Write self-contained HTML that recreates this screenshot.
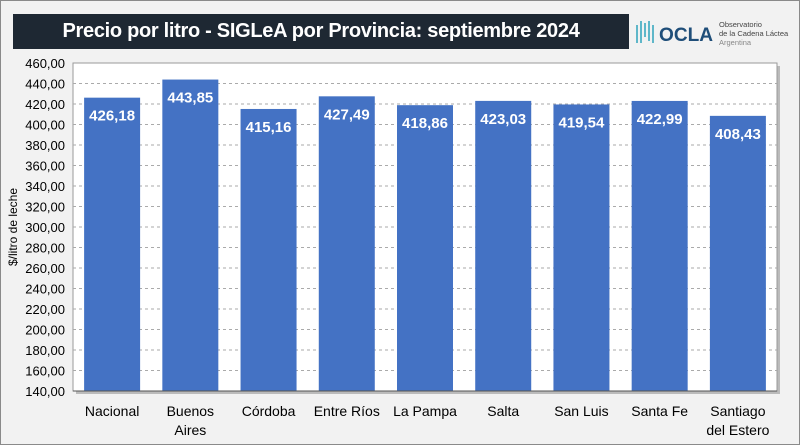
<!DOCTYPE html>
<html><head><meta charset="utf-8"><style>
body{margin:0;background:#f2f2f2;font-family:"Liberation Sans",sans-serif;}
#wrap{position:relative;width:798px;height:443px;border:1px solid #8a8a8a;background:#f2f2f2;overflow:hidden}
#title{position:absolute;left:12px;top:13px;width:616px;height:35px;background:#1e2833;color:#fff;font-weight:bold;font-size:20px;line-height:35px;text-align:center;letter-spacing:-0.3px}
#logo{position:absolute;left:634px;top:16px;}
</style></head><body>
<div id="wrap">
<div id="title">Precio por litro - SIGLeA por Provincia: septiembre 2024</div>
<svg id="logo" width="166" height="34">
<path d="M2 26 V8 M6 26 V4 M10 20 V6 M14 24 V4 M18 26 V8" stroke="#5fb7c9" stroke-width="2" fill="none"/>
<text x="24" y="24" font-size="19" font-weight="bold" fill="#1f4e79" font-family="Liberation Sans" textLength="54" lengthAdjust="spacingAndGlyphs">OCLA</text>
<text x="84" y="10" font-size="7.5" fill="#444">Observatorio</text>
<text x="84" y="19" font-size="7.5" fill="#444">de la Cadena Láctea</text>
<text x="84" y="28" font-size="7.5" fill="#888">Argentina</text>
</svg>
<svg id="chart" width="800" height="445" style="position:absolute;left:0;top:0"></svg>
</div>
<script>
const categories=[["Nacional"],["Buenos","Aires"],["Córdoba"],["Entre Ríos"],["La Pampa"],["Salta"],["San Luis"],["Santa Fe"],["Santiago","del Estero"]];
const values=[426.18,443.85,415.16,427.49,418.86,423.03,419.54,422.99,408.43];
const labels=["426,18","443,85","415,16","427,49","418,86","423,03","419,54","422,99","408,43"];
const ticks=[140,160,180,200,220,240,260,280,300,320,340,360,380,400,420,440,460];
const ns="http://www.w3.org/2000/svg",svg=document.getElementById('chart');
const L=72,R=776,T=62,B=390,yMin=140,yMax=460;
const y=v=>B-(v-yMin)/(yMax-yMin)*(B-T);
const band=(R-L)/categories.length;
const x=i=>L+band*i;
function mk(t,a,txt){const e=document.createElementNS(ns,t);for(const k in a)e.setAttribute(k,a[k]);if(txt!==undefined)e.textContent=txt;svg.appendChild(e);return e;}
let e=mk('rect',{x:L+3,y:T+3,width:R-L,height:B-T,fill:'#bbb'});

e=mk('rect',{x:L,y:T,width:R-L,height:B-T,fill:'#fff',stroke:'#999'});

ticks.forEach(t=>{
 if(t>yMin&&t<yMax){e=mk('line',{x1:L,x2:R,y1:y(t),y2:y(t),stroke:'#aaa','stroke-dasharray':'3,3'});
 }
 e=mk('text',{x:L-8,y:y(t)+5,'text-anchor':'end','font-size':13,fill:'#000'},t.toFixed(2).replace('.',','));
 
});
values.forEach((v,i)=>{
 const bw=56,bx=x(i)+(band-bw)/2;
 e=mk('rect',{x:bx,y:y(v),width:bw,height:B-y(v),fill:'#4472c4'});
 
 e=mk('text',{x:bx+bw/2,y:y(v)+23,'text-anchor':'middle','font-size':15,'font-weight':'bold',fill:'#fff'},labels[i]);
 
 categories[i].forEach((ln,j)=>{
  e=mk('text',{x:bx+bw/2,y:415+j*19,'text-anchor':'middle','font-size':14,fill:'#000'},ln);
  
 });
});
e=mk('line',{x1:L,x2:R,y1:B,y2:B,stroke:'#555'});

e=mk('text',{x:16,y:226,'text-anchor':'middle','font-size':12,fill:'#000',transform:'rotate(-90 16 226)'},'$/litro de leche');

</script>
</body></html>
